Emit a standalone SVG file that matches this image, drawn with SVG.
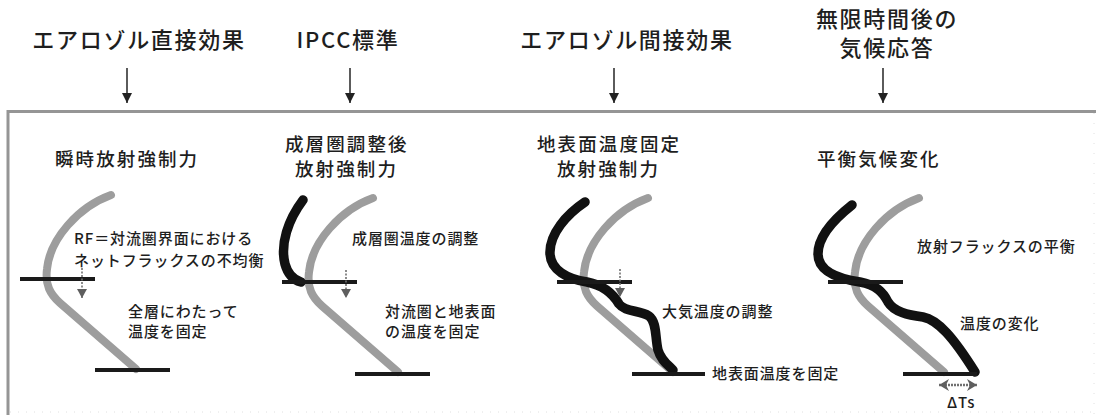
<svg xmlns="http://www.w3.org/2000/svg" width="1096" height="415" viewBox="0 0 1096 415">
<defs>
<style>
text{font-family:"Noto Sans CJK JP","Noto Sans",sans-serif;fill:#1e1e1e;font-weight:500}
.head{font-size:22px;letter-spacing:1.7px;text-anchor:middle}
.title{font-size:18.5px;letter-spacing:2.1px}
.body{font-size:15px;letter-spacing:0.9px}
.gray{fill:none;stroke:#9d9d9d;stroke-width:8;stroke-linecap:round;stroke-linejoin:round}
.black{fill:none;stroke:#111;stroke-width:9.5;stroke-linecap:round;stroke-linejoin:round}
.level{stroke:#1a1a1a;stroke-width:4}
.top{stroke:#333;stroke-width:1.6;fill:none}
.dot{stroke:#707070;stroke-width:1.6;stroke-dasharray:2 1.5;fill:none}
.dbl{stroke:#707070;stroke-width:2.4;stroke-dasharray:2 1;fill:none}
</style>
<marker id="ah" markerUnits="userSpaceOnUse" markerWidth="12" markerHeight="12" refX="10" refY="5" orient="auto">
<path d="M0,0 L10,5 L0,10 Z" fill="#222"/>
</marker>
<marker id="gh" markerUnits="userSpaceOnUse" markerWidth="12" markerHeight="12" refX="9" refY="5" orient="auto-start-reverse">
<path d="M0,0 L9,5 L0,10 Z" fill="#5e5e5e"/>
</marker>
<marker id="dh" markerUnits="userSpaceOnUse" markerWidth="14" markerHeight="14" refX="10" refY="6" orient="auto-start-reverse">
<path d="M0,0 L10,6 L0,12 L3,6 Z" fill="#5e5e5e"/>
</marker>
<path id="grayCurve" d="M91,-84 C 58,-72 30,-40 27,-10 C 25,6 30,15 40,24 L116,90"/>
</defs>
<rect width="1096" height="415" fill="#fff"/>

<g id="frame">
<line x1="7" y1="111.5" x2="1096" y2="111.5" stroke="#959595" stroke-width="3"/>
<line x1="8" y1="110" x2="8" y2="415" stroke="#959595" stroke-width="3"/>
<line x1="10" y1="412" x2="1096" y2="412" stroke="#e0e0e0" stroke-width="1" stroke-dasharray="1 7"/>
<line x1="1094" y1="113" x2="1094" y2="415" stroke="#e0e0e0" stroke-width="1" stroke-dasharray="1 9"/>
</g>

<g id="headings">
<g id="h-direct"><text class="head" x="139" y="48">エアロゾル直接効果</text></g>
<g id="h-ipcc"><text class="head" x="348" y="48">IPCC標準</text></g>
<g id="h-indirect"><text class="head" x="627" y="48">エアロゾル間接効果</text></g>
<g id="h-equil"><text class="head" x="887" y="27">無限時間後の</text><text class="head" x="887" y="56">気候応答</text></g>
</g>

<g id="connectors">
<line class="top" x1="127" y1="68" x2="127" y2="103" marker-end="url(#ah)"/>
<line class="top" x1="350" y1="68" x2="350" y2="103" marker-end="url(#ah)"/>
<line class="top" x1="614" y1="68" x2="614" y2="103" marker-end="url(#ah)"/>
<line class="top" x1="883" y1="68" x2="883" y2="103" marker-end="url(#ah)"/>
</g>

<g id="panel1">
<text class="title" x="55" y="166">瞬時放射強制力</text>
<g transform="translate(20,279)">
<use href="#grayCurve" class="gray"/>
<line class="level" x1="0" y1="0" x2="75" y2="0"/>
<line class="level" x1="75" y1="91" x2="150" y2="91"/>
</g>
<line class="dot" x1="82" y1="268" x2="82" y2="298" marker-end="url(#gh)"/>
<text class="body" x="74" y="244">RF＝対流圏界面における</text>
<text class="body" x="74" y="266">ネットフラックスの不均衡</text>
<text class="body" x="128" y="317">全層にわたって</text>
<text class="body" x="128" y="337">温度を固定</text>
</g>

<g id="panel2">
<text class="title" x="285" y="151">成層圏調整後</text>
<text class="title" x="295" y="176">放射強制力</text>
<g transform="translate(282,282)">
<use href="#grayCurve" class="gray"/>
<path class="black" d="M21,-82 C 6,-62 -2,-38 3,-18 C 6,-7 12,-2 19,0"/>
<line class="level" x1="0" y1="0" x2="75" y2="0"/>
<line class="level" x1="73" y1="92" x2="148" y2="92"/>
</g>
<line class="dot" x1="346" y1="270" x2="346" y2="298" marker-end="url(#gh)"/>
<text class="body" x="352" y="244">成層圏温度の調整</text>
<text class="body" x="385" y="317">対流圏と地表面</text>
<text class="body" x="385" y="337">の温度を固定</text>
</g>

<g id="panel3">
<text class="title" x="537" y="151">地表面温度固定</text>
<text class="title" x="557" y="176">放射強制力</text>
<g transform="translate(557,282)">
<use href="#grayCurve" class="gray"/>
<path class="black" d="M28,-80 C 10,-68 -8,-48 -7,-28 C -6,-12 10,-3 30,0 C 45,3 55,10 62,22 C 68,30 82,28 92,34 C 100,40 98,55 101,68 C 104,78 110,82 116,88"/>
<line class="level" x1="0" y1="0" x2="75" y2="0"/>
<line class="level" x1="75" y1="92" x2="148" y2="92"/>
</g>
<line class="dot" x1="620" y1="269" x2="620" y2="297" marker-end="url(#gh)"/>
<text class="body" x="662" y="317">大気温度の調整</text>
<text class="body" x="712" y="379">地表面温度を固定</text>
</g>

<g id="panel4">
<text class="title" x="817" y="166">平衡気候変化</text>
<g transform="translate(828,282)">
<use href="#grayCurve" class="gray"/>
<path class="black" d="M24,-77 C 5,-62 -10,-45 -10,-28 C -10,-10 12,-3 32,0 C 48,3 55,10 60,20 C 66,30 80,33 95,35 C 110,38 125,55 147,90"/>
<line class="level" x1="0" y1="0" x2="75" y2="0"/>
<line class="level" x1="75" y1="92" x2="149" y2="92"/>
</g>
<line class="dbl" x1="939" y1="385" x2="977" y2="385" marker-start="url(#dh)" marker-end="url(#dh)"/>
<text class="body" x="947" y="408">ΔTs</text>
<text class="body" x="917" y="252">放射フラックスの平衡</text>
<text class="body" x="960" y="329">温度の変化</text>
</g>
</svg>
